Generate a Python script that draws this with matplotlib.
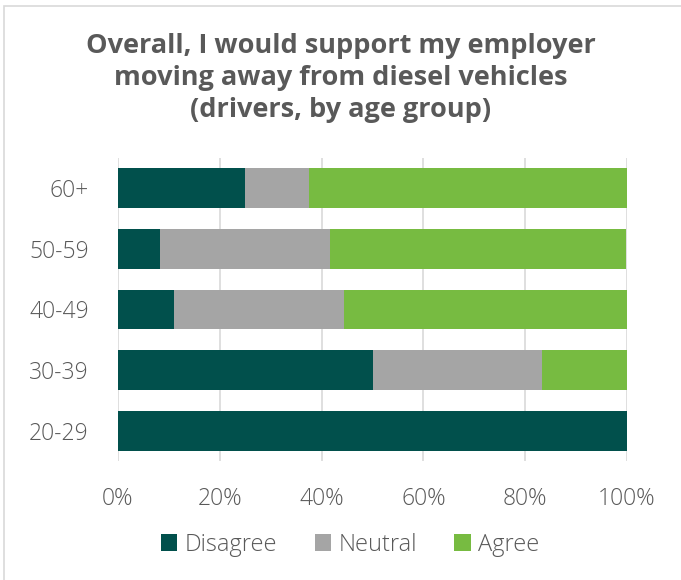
import numpy as np
import matplotlib.pyplot as plt
from matplotlib.patches import Rectangle

# Share of drivers per answer, by age group (percent)
age_groups = ['20-29', '30-39', '40-49', '50-59', '60+']
disagree = [100.0, 50.0, 11.1, 8.3, 25.0]
neutral = [0.0, 33.3, 33.3, 33.3, 12.5]
agree = [0.0, 16.7, 55.6, 58.3, 62.5]

colours = {'Disagree': '#01504c', 'Neutral': '#a5a5a5', 'Agree': '#77bb41'}
text_col = '#595959'

plt.rcParams['font.family'] = ['Open Sans', 'DejaVu Sans']

fig = plt.figure(figsize=(6.81, 5.8), dpi=100)
ax = fig.add_axes([118 / 681, 1 - 461 / 580, 509 / 681, 303 / 580])

# light frame round the chart
fig.patches.append(Rectangle((4 / 681, -0.1), 1.2, (1 - 6 / 580) + 0.1,
                             transform=fig.transFigure, fill=False,
                             edgecolor='#d9d9d9', linewidth=1.2))

y = np.arange(len(age_groups))
left = np.zeros(len(age_groups))
for name, vals in [('Disagree', disagree), ('Neutral', neutral), ('Agree', agree)]:
    ax.barh(y, vals, left=left, height=0.66, color=colours[name], label=name, zorder=3)
    left = left + np.array(vals)

ax.set_xlim(0, 100)
ax.set_ylim(-0.5, len(age_groups) - 0.5)
ax.set_xticks(np.arange(0, 101, 20))
ax.set_xticklabels(['{}%'.format(v) for v in range(0, 101, 20)])
ax.set_yticks(y)
ax.set_yticklabels(age_groups)
ax.grid(axis='x', color='#d9d9d9', linewidth=1.2, zorder=0)
ax.tick_params(axis='both', length=0, labelsize=16.5, labelcolor=text_col)
ax.tick_params(axis='x', pad=19)
ax.tick_params(axis='y', pad=21)
for lbl in ax.get_xticklabels() + ax.get_yticklabels():
    lbl.set_fontweight('light')
for s in ax.spines.values():
    s.set_visible(False)

fig.text(0.5, 1 - 78 / 580,
         'Overall, I would support my employer\nmoving away from diesel vehicles\n(drivers, by age group)',
         ha='center', va='center', fontsize=19.5, fontweight='bold', color=text_col,
         linespacing=1.32)

leg = ax.legend(loc='center', bbox_to_anchor=(350 / 681, 1 - 545 / 580), bbox_transform=fig.transFigure,
                ncol=3, frameon=False, fontsize=17, labelcolor=text_col,
                handlelength=0.7, handleheight=0.7, handletextpad=0.3, columnspacing=1.6)
for t in leg.get_texts():
    t.set_fontweight('light')

fig.savefig('out.png', dpi=100)
